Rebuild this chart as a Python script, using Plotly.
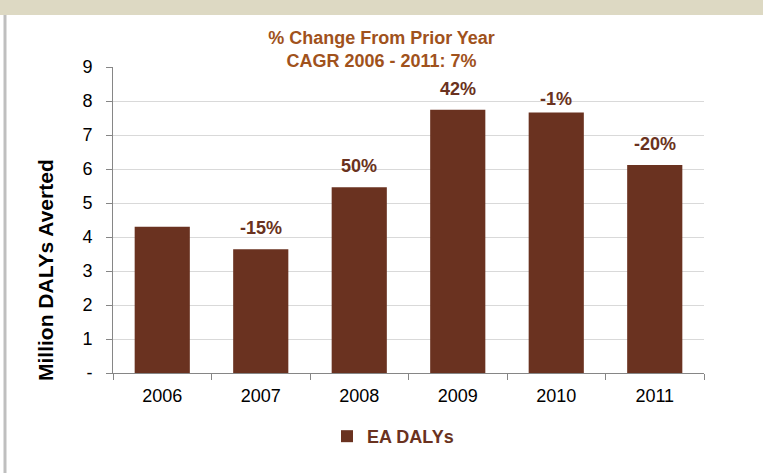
import plotly.graph_objects as go

years = ["2006", "2007", "2008", "2009", "2010", "2011"]
dalys = [4.3, 3.64, 5.46, 7.74, 7.66, 6.12]
pct_labels = ["", "-15%", "50%", "42%", "-1%", "-20%"]
y_ticks = [0, 1, 2, 3, 4, 5, 6, 7, 8, 9]
y_ticktext = ["-", "1", "2", "3", "4", "5", "6", "7", "8", "9"]

BAR = "#6A3220"
TITLE = "#A0521C"
FONT = "Liberation Sans, Arial, sans-serif"

fig = go.Figure()
fig.add_trace(go.Bar(x=years, y=dalys, name="<b>EA DALYs</b>", marker=dict(color=BAR, line=dict(width=0))))

for i, (v, t) in enumerate(zip(dalys, pct_labels)):
    if t:
        fig.add_annotation(x=i, y=v, xref="x", yref="y", text=f"<b>{t}</b>", showarrow=False,
                           yanchor="bottom", yshift=9 if t != "-1%" else 2,
                           font=dict(family=FONT, size=18, color=BAR))

# y-axis title (placed like the original, a little below the axis centre)
fig.add_annotation(xref="paper", yref="paper", x=-(113 - 45) / 591, y=(373 - 270) / 306,
                   text="<b>Million DALYs Averted</b>", textangle=-90, showarrow=False,
                   xanchor="center", yanchor="middle", font=dict(family=FONT, size=21, color="black"))

fig.update_layout(
    width=763, height=473,
    margin=dict(l=113, r=59, t=67, b=100),
    paper_bgcolor="white", plot_bgcolor="white",
    bargap=0.44,
    font=dict(family=FONT, size=18, color="black"),
    title=dict(text="<b>% Change From Prior Year<br>CAGR 2006 - 2011: 7%</b>", x=0.5, xanchor="center",
               y=0.907, yanchor="top", font=dict(family=FONT, size=18, color=TITLE)),
    showlegend=True,
    legend=dict(orientation="h", x=(327 - 113) / 591, xanchor="left", y=-0.147, yanchor="top",
                font=dict(family=FONT, size=18, color=BAR)),
    xaxis=dict(type="category", categoryorder="array", categoryarray=years, range=[-0.5, 5.5],
               showline=True, linecolor="#868686", linewidth=1, ticks="outside", tickson="boundaries",
               ticklen=6, tickcolor="#868686", showgrid=False, tickfont=dict(size=18),
               ticklabelstandoff=6),
    yaxis=dict(range=[0, 9], tickvals=y_ticks, ticktext=y_ticktext, showline=True, linecolor="#868686",
               ticks="outside", ticklen=6, tickcolor="#868686", showgrid=True, gridcolor="#D9D9D9",
               zeroline=False, tickfont=dict(size=18), ticklabelstandoff=10),
    shapes=[
        dict(type="rect", xref="paper", yref="paper", x0=-0.3, x1=1.2, y0=1.0 + 52/306, y1=1.3,
             fillcolor="#DDD9C3", line=dict(width=0), layer="below"),
        dict(type="line", xref="paper", yref="paper", x0=-(113-5)/591, x1=-(113-5)/591, y0=-0.4, y1=1.0 + 52/306,
             line=dict(color="#BFBFBF", width=3)),
    ],
)
fig.write_html("out.html", post_script="document.body.style.margin='0';", config={"displayModeBar": False})
